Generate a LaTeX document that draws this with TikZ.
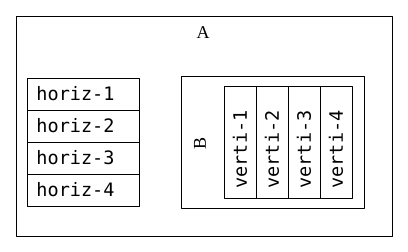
\documentclass[tikz,border=0pt]{standalone}
\usepackage{fontspec}
\setmainfont{Liberation Serif}
\setmonofont{DejaVu Sans Mono}
\usetikzlibrary{positioning}
\tikzset{
  every picture/.style={line join=round, line cap=round},
  frame/.style={draw, line width=0.8pt, inner sep=0pt, outer sep=0pt},
  cell/.style={draw, line width=0.8pt, outer sep=0pt, inner xsep=9.5pt, inner ysep=0pt,
    minimum height=32pt, text width=93pt, align=left, font=\ttfamily\fontsize{18.5}{20}\selectfont},
  lbl/.style={font=\fontsize{18}{20}\selectfont},
}
\begin{document}
\begin{tikzpicture}[x=1pt,y=1pt,node distance=0pt]
\useasboundingbox (0,0) rectangle (408,252);
\fill[white] (0,0) rectangle (408,252);
% outer box A
\node[frame,minimum width=376pt,minimum height=220pt] (boxA) at (204,126) {};
\node[lbl] (labA) at (203,219) {A};
% horizontal stack
\node[cell] (h1) at (83,158) {horiz-1};
\node[cell,below=of h1] (h2) {horiz-2};
\node[cell,below=of h2] (h3) {horiz-3};
\node[cell,below=of h3] (h4) {horiz-4};
% inner box B
\node[frame,minimum width=183pt,minimum height=132pt] (boxB) at (272.5,110) {};
\node[lbl,rotate=90] (labB) at (200,109) {B};
% vertical stack
\node[cell,rotate=90] (v1) at (240,110) {verti-1};
\node[cell,rotate=90,below=of v1] (v2) {verti-2};
\node[cell,rotate=90,below=of v2] (v3) {verti-3};
\node[cell,rotate=90,below=of v3] (v4) {verti-4};
\end{tikzpicture}
\end{document}
